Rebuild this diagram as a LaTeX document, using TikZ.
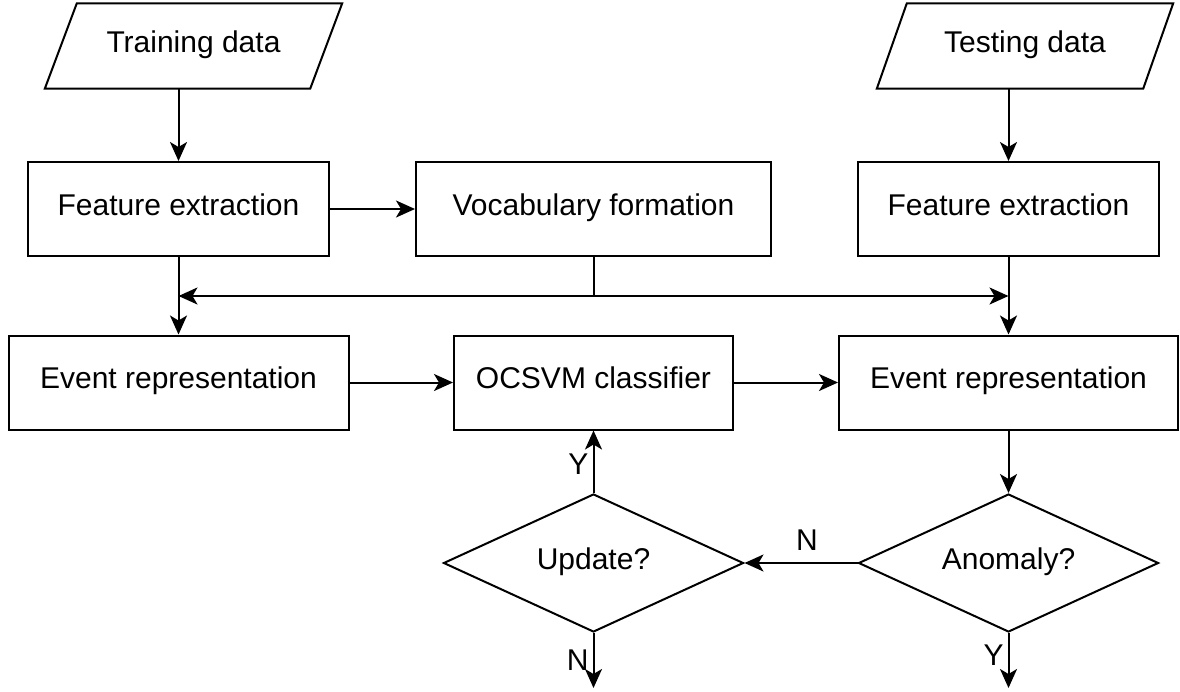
\documentclass[tikz,border=0pt]{standalone}
\usepackage{fontspec}
\setmainfont{Liberation Sans}
\usetikzlibrary{shapes.geometric,arrows.meta}

\begin{document}
\begin{tikzpicture}[x=1pt,y=-1pt,
  every node/.style={font=\fontsize{30}{36}\selectfont},
  even/.style={text height=22pt, text depth=10pt},
  box/.style={draw, line width=2pt, rectangle, minimum width=#1, minimum height=94, inner sep=0, even},
  iobox/.style={rectangle, minimum width=#1, minimum height=85, inner sep=0, even},
  decision/.style={draw, line width=2pt, diamond, shape aspect=2.2, minimum width=300, minimum height=138, inner sep=0, even},
  line/.style={line width=2pt},
  arr/.style={line width=2pt, -{Stealth[length=19pt,width=17pt,inset=5pt]}},
  lbl/.style={inner sep=4pt}
]
\useasboundingbox (0,0) rectangle (1180,691);

% input data (parallelograms drawn around plain nodes)
\node[iobox=265] (train) at (193.5,46) {Training data};
\draw[line, line join=miter] ([xshift=16pt]train.north west) -- ([xshift=16pt]train.north east)
  -- ([xshift=-16pt]train.south east) -- ([xshift=-16pt]train.south west) -- cycle;
\node[iobox=266] (test) at (1025,46) {Testing data};
\draw[line, line join=miter] ([xshift=15pt]test.north west) -- ([xshift=15pt]test.north east)
  -- ([xshift=-15pt]test.south east) -- ([xshift=-15pt]test.south west) -- cycle;

% processing steps
\node[box=301] (fe1) at (178.5,209) {Feature extraction};
\node[box=355] (voc) at (593.5,209) {Vocabulary formation};
\node[box=301] (fe2) at (1008.5,209) {Feature extraction};
\node[box=340] (er1) at (178.5,382.5) {Event representation};
\node[box=279] (oc) at (593.5,382.5) {OCSVM classifier};
\node[box=339] (er2) at (1008.5,382.5) {Event representation};

% decisions
\node[decision] (up) at (593.5,563) {Update?};
\node[decision] (an) at (1008.5,563) {Anomaly?};

% free ends of the outgoing branches
\coordinate (upout) at (593.5,688);
\coordinate (anout) at (1008.5,688);

% connectors
\draw[arr] (fe1.north |- train.south) -- (fe1.north);
\draw[arr] (fe2.north |- test.south) -- (fe2.north);
\draw[arr] (fe1.east) -- (voc.west);
\draw[arr] (fe1.south) -- (er1.north);
\draw[arr] (fe2.south) -- (er2.north);
\path (voc.south) ++(0,39) coordinate (bus);
\draw[line] (voc.south) -- (bus);
\draw[arr] (bus) -- (bus -| fe1);
\draw[arr] (bus) -- (bus -| fe2);
\draw[arr] (er1.east) -- (oc.west);
\draw[arr] (oc.east) -- (er2.west);
\draw[arr] (er2.south) -- (an.north);
\draw[arr] (an.west) -- (up.east) node[lbl, midway, above, xshift=6pt, yshift=8pt] {N};
\draw[arr] (up.north) -- (oc.south) node[lbl, midway, left, yshift=-2pt] {Y};
\draw[arr] (up.south) -- (upout) node[lbl, midway, left] {N};
\draw[arr] (an.south) -- (anout) node[lbl, midway, left, yshift=5pt] {Y};
\end{tikzpicture}
\end{document}
